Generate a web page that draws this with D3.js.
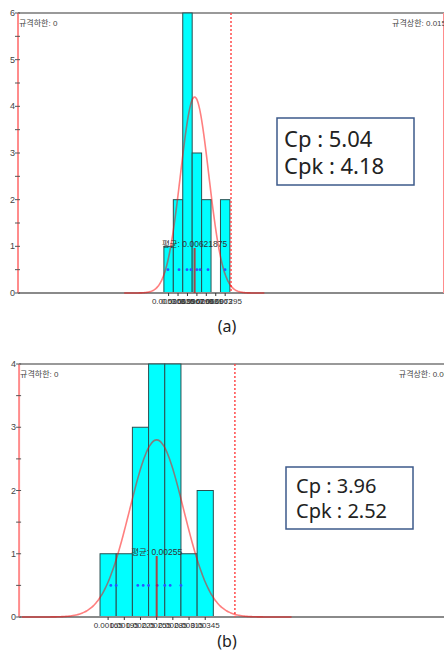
<!DOCTYPE html>
<html>
<head>
<meta charset="utf-8">
<script src="https://cdn.jsdelivr.net/npm/d3@7"></script>
<style>
  body { margin: 0; background: #fff; }
  svg { display: block; }
</style>
</head>
<body>
<div id="chart"></div>
<script>
// panel (a)
var binCentersA = [0.005303, 0.005635, 0.005967, 0.006299, 0.006631, 0.006963, 0.007295]
var countsA = [1, 2, 6, 3, 2, 0, 2]
var binLabelsA = ["0.005303", "0.005635", "0.005967", "0.006299", "0.006631", "0.006963", "0.007295"]
var pointsA = [0.00528, 0.00567, 0.00595, 0.00609, 0.0063, 0.00641, 0.00669, 0.00729]
var statsA = {lsl: 0, usl: 0.015, mid: 0.0075, mean: 0.00621875, sigma: 0.000496, peak: 4.2, width: 0.000332}
var capA = ["Cp : 5.04", "Cpk : 4.18"]
var yTicksA = [0, 1, 2, 3, 4, 5, 6]

// panel (b)
var binCentersB = [0.00165, 0.00195, 0.00225, 0.00255, 0.00285, 0.00315, 0.00345]
var countsB = [1, 1, 3, 4, 4, 1, 2]
var binLabelsB = ["0.00165", "0.00195", "0.00225", "0.00255", "0.00285", "0.00315", "0.00345"]
var pointsB = [0.0017, 0.0018, 0.0022, 0.0023, 0.0024, 0.00256, 0.0027, 0.0028, 0.0030]
var statsB = {lsl: 0, usl: 0.008, mid: 0.004, mean: 0.00255, sigma: 0.0005, peak: 2.8, width: 0.0003}
var capB = ["Cp : 3.96", "Cpk : 2.52"]
var yTicksB = [0, 1, 2, 3, 4]

var w = 444, h = 668

var svg = d3.select("#chart")
  .append("svg")
  .attr("width", w)
  .attr("height", h)

function panel(o) {
  var g = svg.append("g")
  var x = d3.scaleLinear().domain([o.stats.lsl, o.stats.usl]).range([o.left, o.right])
  var yMax = d3.max(o.yTicks)
  var y = d3.scaleLinear().domain([0, yMax]).range([o.bottom, o.top])
  var s = o.stats

  // frame lines
  g.append("line").attr("x1", o.left).attr("x2", w).attr("y1", o.top).attr("y2", o.top)
    .attr("stroke", "#999").attr("stroke-width", 2)

  // bars
  g.selectAll("rect.bar")
    .data(o.centers)
    .join("rect")
    .attr("class", "bar")
    .attr("x", function(d) {return x(d - s.width/2)})
    .attr("width", function(d) {return x(d + s.width/2) - x(d - s.width/2)})
    .attr("y", function(d,i) {return y(o.counts[i])})
    .attr("height", function(d,i) {return y(0) - y(o.counts[i])})
    .attr("fill", function(d,i) {return o.counts[i] ? "#00ffff" : "none"})
    .attr("stroke", function(d,i) {return o.counts[i] ? "#2b4f50" : "none"})
    .attr("stroke-width", 1)

  // baseline
  g.append("line").attr("x1", o.left).attr("x2", w).attr("y1", o.bottom).attr("y2", o.bottom)
    .attr("stroke", "#8a8a8a").attr("stroke-width", 2)

  // spec lines
  g.append("line").attr("x1", x(s.lsl)).attr("x2", x(s.lsl)).attr("y1", o.top).attr("y2", o.bottom)
    .attr("stroke", "#ff8c8c").attr("stroke-width", 2)
  g.append("line").attr("x1", x(s.usl)).attr("x2", x(s.usl)).attr("y1", o.top).attr("y2", o.bottom)
    .attr("stroke", "#ff8c8c").attr("stroke-width", 2)
  g.append("line").attr("x1", x(s.mid)).attr("x2", x(s.mid)).attr("y1", o.top).attr("y2", o.bottom)
    .attr("stroke", "#ff4a4a").attr("stroke-width", 1.5).attr("stroke-dasharray", "2,2")

  // y axis ticks
  var halfTicks = d3.range(0, yMax + 0.001, 0.5)
  g.selectAll("line.yt")
    .data(halfTicks)
    .join("line")
    .attr("class", "yt")
    .attr("x1", x(s.lsl) - 3).attr("x2", x(s.lsl) + 2)
    .attr("y1", function(d) {return y(d)}).attr("y2", function(d) {return y(d)})
    .attr("stroke", "#555").attr("stroke-width", 1)
  g.selectAll("text.yl")
    .data(o.yTicks)
    .join("text")
    .attr("class", "yl")
    .attr("x", x(s.lsl) - 3)
    .attr("y", function(d) {return y(d) + 3})
    .attr("text-anchor", "end")
    .attr("font-family", "Liberation Sans, sans-serif")
    .attr("font-size", 9)
    .attr("fill", "#444")
    .text(function(d) {return d})

  // spec labels
  g.append("text").attr("x", x(s.lsl) + 1).attr("y", o.top + 13)
    .attr("font-family", "Liberation Sans, Noto Sans CJK KR, sans-serif").attr("font-size", 8).attr("fill", "#444")
    .text("규격하한: " + s.lsl)
  g.append("text").attr("x", x(s.usl) + 2).attr("y", o.top + 13).attr("text-anchor", "end")
    .attr("font-family", "Liberation Sans, Noto Sans CJK KR, sans-serif").attr("font-size", 8).attr("fill", "#444")
    .text("규격상한: " + s.usl)

  // x tick marks and labels at bin centers
  g.selectAll("line.xt")
    .data(o.centers)
    .join("line")
    .attr("class", "xt")
    .attr("x1", function(d) {return x(d)}).attr("x2", function(d) {return x(d)})
    .attr("y1", o.bottom).attr("y2", o.bottom + 3)
    .attr("stroke", "#333")
  g.selectAll("text.xl")
    .data(o.labels)
    .join("text")
    .attr("class", "xl")
    .attr("x", function(d,i) {return x(o.centers[i])})
    .attr("y", o.bottom + 11)
    .attr("text-anchor", "middle")
    .attr("font-family", "Liberation Sans, sans-serif")
    .attr("font-size", 8)
    .attr("fill", "#333")
    .text(function(d) {return d})

  // fitted normal curve
  var xs = d3.range(s.mean - 5*s.sigma, s.mean + 5*s.sigma, s.sigma/20)
  var line = d3.line()
    .x(function(d) {return x(d)})
    .y(function(d) {return y(s.peak * Math.exp(-0.5*Math.pow((d - s.mean)/s.sigma, 2)))})
    .curve(d3.curveNatural)
  g.append("path")
    .attr("d", line(xs))
    .attr("fill", "none")
    .attr("stroke", "red")
    .attr("stroke-opacity", 0.5)
    .attr("stroke-width", 1.6)

  // data points
  g.selectAll("circle")
    .data(o.points)
    .join("circle")
    .attr("cx", function(d) {return x(d)})
    .attr("cy", y(0.5))
    .attr("r", 1.4)
    .attr("fill", "#2a55ff")

  // mean line + label
  g.append("line").attr("x1", x(s.mean)).attr("x2", x(s.mean))
    .attr("y1", o.bottom).attr("y2", o.meanTop)
    .attr("stroke", "#d01818").attr("stroke-opacity", 0.8).attr("stroke-width", 2)
  g.append("text").attr("x", x(s.mean)).attr("y", o.meanTop - 1)
    .attr("text-anchor", "middle")
    .attr("font-family", "Liberation Sans, Noto Sans CJK KR, sans-serif").attr("font-size", 8.5).attr("fill", "#333")
    .text("평균: " + s.mean)

  // Cp box
  var b = o.box
  g.append("rect").attr("x", b[0]).attr("y", b[1]).attr("width", b[2]).attr("height", b[3])
    .attr("fill", "#fff").attr("stroke", "#3c5a8a").attr("stroke-width", 1.5)
  g.selectAll("text.cap")
    .data(o.cap)
    .join("text")
    .attr("class", "cap")
    .attr("x", b[0] + o.capPad)
    .attr("y", function(d,i) {return b[1] + o.capBase + i*o.capGap})
    .attr("font-family", "Noto Sans, sans-serif")
    .attr("font-size", o.capSize)
    .attr("fill", "#222")
    .text(function(d) {return d})

  // caption
  svg.append("text").attr("x", 227).attr("y", o.caption[1])
    .attr("text-anchor", "middle")
    .attr("font-family", "Noto Sans, sans-serif").attr("font-size", 16).attr("fill", "#222")
    .text(o.caption[0])
}

panel({
  centers: binCentersA, counts: countsA, labels: binLabelsA, points: pointsA,
  stats: statsA, cap: capA, yTicks: yTicksA,
  left: 18, right: 444, top: 13, bottom: 293, meanTop: 248,
  box: [277, 118, 137, 67], capPad: 7, capBase: 29, capGap: 27, capSize: 22,
  caption: ["(a)", 332]
})

panel({
  centers: binCentersB, counts: countsB, labels: binLabelsB, points: pointsB,
  stats: statsB, cap: capB, yTicks: yTicksB,
  left: 19.1, right: 450.7, top: 364, bottom: 617, meanTop: 556,
  box: [286, 467, 127, 62], capPad: 10, capBase: 26, capGap: 25, capSize: 20,
  caption: ["(b)", 647]
})
</script>
</body>
</html>
